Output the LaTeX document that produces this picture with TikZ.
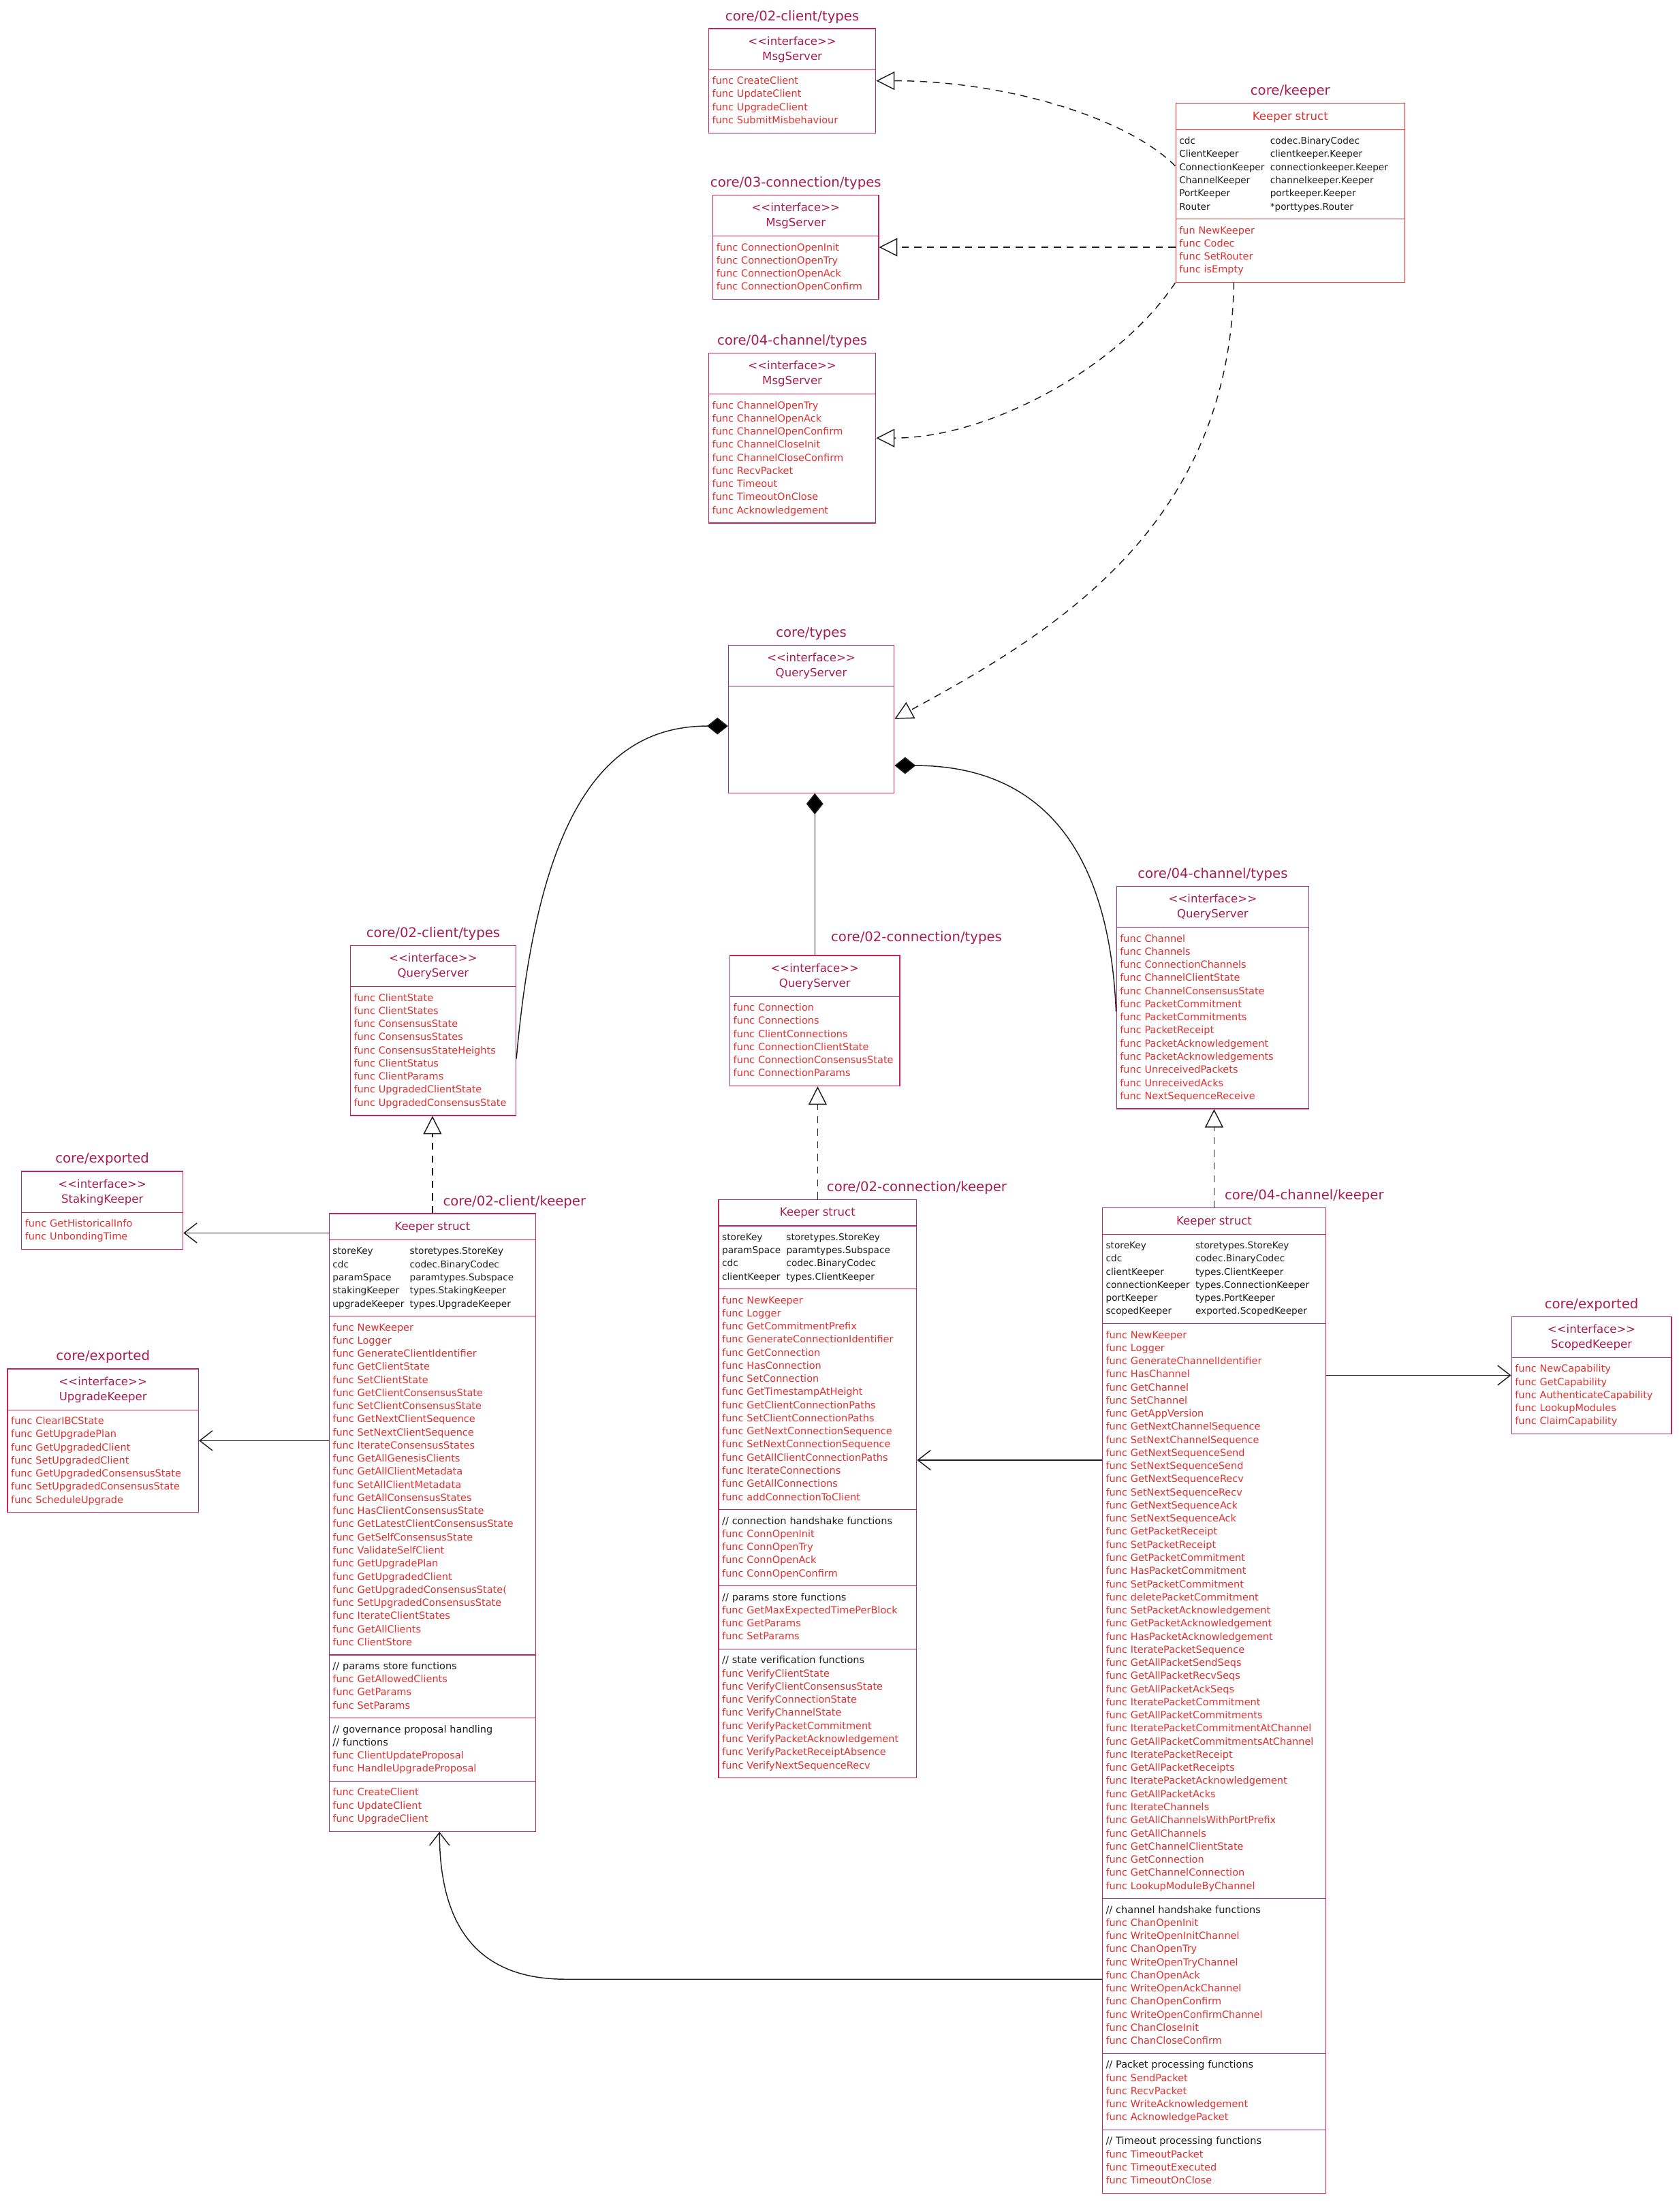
\documentclass[tikz,border=0pt]{standalone}
\usepackage{fontspec}
\setmainfont{DejaVu Sans}
\usepackage{tikz}
\usepackage{xcolor}
\usetikzlibrary{shapes.multipart,arrows.meta}

\definecolor{pkgc}{HTML}{A61E4D}
\definecolor{boxc}{HTML}{C2255C}
\definecolor{funcc}{HTML}{E03131}
\definecolor{linec}{HTML}{1E1E1E}

\newcommand{\hdr}[2][pkgc]{{\centering\color{#1}\fontsize{8}{10.5}\selectfont\rule{0pt}{8pt}#2\rule[-3pt]{0pt}{3pt}\par}}
\newcommand{\ifc}[1]{\hdr{<\kern0pt<interface>\kern0pt>\\#1}}
\newcommand{\fn}[1]{\mbox{\strut\color{funcc}func #1}\par}
\newcommand{\cmt}[1]{\mbox{\strut #1}\par}
\newcommand{\flds}[1]{{\fontsize{6.6}{9.3}\selectfont\begin{tabular}[t]{@{}l@{\hspace{4pt}}l@{}}#1\end{tabular}}\par}

\tikzset{
  pkg/.style={text=pkgc,font=\fontsize{9.5}{11}\selectfont},
  classbox/.style={rectangle split,rectangle split parts=#1,draw=boxc,line width=0.6pt,fill=white,
    anchor=north west,align=left,inner xsep=2.5pt,inner ysep=3.5pt,text=linec,font=\fontsize{7}{9.3}\selectfont},
  conn/.style={draw=linec,line width=0.7pt},
  realize/.style={conn,dash pattern=on 5pt off 4pt,-{Triangle[open,length=13pt,width=13pt]}},
  compose/.style={conn,-{Diamond[length=15pt,width=12pt]}},
  uses/.style={conn,-{Straight Barb[length=9pt,width=14pt]}}
}

\begin{document}
\begin{tikzpicture}[x=1pt,y=-1pt]
\useasboundingbox (0,0) rectangle (1190,1568);

\node[classbox=2,text width=113.4pt,label={[pkg]north:core/02-client/types}] at (502,20) (msgclient){%
\ifc{MsgServer}
\nodepart{two}
\fn{CreateClient}
\fn{UpdateClient}
\fn{UpgradeClient}
\fn{SubmitMisbehaviour}};

\node[classbox=2,text width=112.4pt,label={[pkg]north:core/03-connection/types}] at (505,138) (msgconn){%
\ifc{MsgServer}
\nodepart{two}
\fn{ConnectionOpenInit}
\fn{ConnectionOpenTry}
\fn{ConnectionOpenAck}
\fn{ConnectionOpenConfirm}};

\node[classbox=2,text width=113.4pt,label={[pkg]north:core/04-channel/types}] at (502,250) (msgchan){%
\ifc{MsgServer}
\nodepart{two}
\fn{ChannelOpenTry}
\fn{ChannelOpenAck}
\fn{ChannelOpenConfirm}
\fn{ChannelCloseInit}
\fn{ChannelCloseConfirm}
\fn{RecvPacket}
\fn{Timeout}
\fn{TimeoutOnClose}
\fn{Acknowledgement}};

\node[classbox=3,draw=funcc,text width=157.4pt,label={[pkg]north:core/keeper}] at (833,73) (corekeeper){%
\hdr[funcc]{Keeper struct}
\nodepart{two}
\flds{cdc & codec.BinaryCodec\\
ClientKeeper & clientkeeper.Keeper\\
ConnectionKeeper & connectionkeeper.Keeper\\
ChannelKeeper & channelkeeper.Keeper\\
PortKeeper & portkeeper.Keeper\\
Router & *porttypes.Router}
\nodepart{three}
\mbox{\strut\color{funcc}fun NewKeeper}\par
\fn{Codec}
\fn{SetRouter}
\fn{isEmpty}};

\node[classbox=2,text width=112.4pt,label={[pkg]north:core/types}] at (516,457) (qscore){%
\ifc{QueryServer}
\nodepart{two}
\rule{0pt}{68pt}};

\node[classbox=2,text width=112.4pt,label={[pkg]north:core/02-client/types}] at (248,670) (qsclient){%
\ifc{QueryServer}
\nodepart{two}
\fn{ClientState}
\fn{ClientStates}
\fn{ConsensusState}
\fn{ConsensusStates}
\fn{ConsensusStateHeights}
\fn{ClientStatus}
\fn{ClientParams}
\fn{UpgradedClientState}
\fn{UpgradedConsensusState}};

\node[classbox=2,text width=115.4pt,label={[pkg,anchor=south west,xshift=8pt,yshift=4pt]north:core/02-connection/types}] at (517,677) (qsconn){%
\ifc{QueryServer}
\nodepart{two}
\fn{Connection}
\fn{Connections}
\fn{ClientConnections}
\fn{ConnectionClientState}
\fn{ConnectionConsensusState}
\fn{ConnectionParams}};

\node[classbox=2,text width=131.4pt,label={[pkg]north:core/04-channel/types}] at (791,628) (qschan){%
\ifc{QueryServer}
\nodepart{two}
\fn{Channel}
\fn{Channels}
\fn{ConnectionChannels}
\fn{ChannelClientState}
\fn{ChannelConsensusState}
\fn{PacketCommitment}
\fn{PacketCommitments}
\fn{PacketReceipt}
\fn{PacketAcknowledgement}
\fn{PacketAcknowledgements}
\fn{UnreceivedPackets}
\fn{UnreceivedAcks}
\fn{NextSequenceReceive}};

\node[classbox=2,text width=109.4pt,label={[pkg]north:core/exported}] at (15,830) (staking){%
\ifc{StakingKeeper}
\nodepart{two}
\fn{GetHistoricalInfo}
\fn{UnbondingTime}};

\node[classbox=2,text width=130.4pt,label={[pkg]north:core/exported}] at (5,970) (upgrade){%
\ifc{UpgradeKeeper}
\nodepart{two}
\fn{ClearIBCState}
\fn{GetUpgradePlan}
\fn{GetUpgradedClient}
\fn{SetUpgradedClient}
\fn{GetUpgradedConsensusState}
\fn{SetUpgradedConsensusState}
\fn{ScheduleUpgrade}};

\node[classbox=2,text width=108.4pt,label={[pkg]north:core/exported}] at (1071,933) (scoped){%
\ifc{ScopedKeeper}
\nodepart{two}
\fn{NewCapability}
\fn{GetCapability}
\fn{AuthenticateCapability}
\fn{LookupModules}
\fn{ClaimCapability}};

\node[classbox=6,text width=141.4pt,label={[pkg,anchor=south west,xshift=4pt]north:core/02-client/keeper}] at (233,860) (clientkeeper){%
\hdr{Keeper struct}
\nodepart{two}
\flds{storeKey & storetypes.StoreKey\\
cdc & codec.BinaryCodec\\
paramSpace & paramtypes.Subspace\\
stakingKeeper & types.StakingKeeper\\
upgradeKeeper & types.UpgradeKeeper}
\nodepart{three}
\fn{NewKeeper}
\fn{Logger}
\fn{GenerateClientIdentifier}
\fn{GetClientState}
\fn{SetClientState}
\fn{GetClientConsensusState}
\fn{SetClientConsensusState}
\fn{GetNextClientSequence}
\fn{SetNextClientSequence}
\fn{IterateConsensusStates}
\fn{GetAllGenesisClients}
\fn{GetAllClientMetadata}
\fn{SetAllClientMetadata}
\fn{GetAllConsensusStates}
\fn{HasClientConsensusState}
\fn{GetLatestClientConsensusState}
\fn{GetSelfConsensusState}
\fn{ValidateSelfClient}
\fn{GetUpgradePlan}
\fn{GetUpgradedClient}
\fn{GetUpgradedConsensusState(}
\fn{SetUpgradedConsensusState}
\fn{IterateClientStates}
\fn{GetAllClients}
\fn{ClientStore}
\nodepart{four}
\cmt{// params store functions}
\fn{GetAllowedClients}
\fn{GetParams}
\fn{SetParams}
\nodepart{five}
\cmt{// governance proposal handling}
\cmt{// functions}
\fn{ClientUpdateProposal}
\fn{HandleUpgradeProposal}
\nodepart{six}
\fn{CreateClient}
\fn{UpdateClient}
\fn{UpgradeClient}};

\node[classbox=6,text width=135.4pt,label={[pkg,anchor=south west,xshift=3pt]north:core/02-connection/keeper}] at (509,850) (connkeeper){%
\hdr{Keeper struct}
\nodepart{two}
\flds{storeKey & storetypes.StoreKey\\
paramSpace & paramtypes.Subspace\\
cdc & codec.BinaryCodec\\
clientKeeper & types.ClientKeeper}
\nodepart{three}
\fn{NewKeeper}
\fn{Logger}
\fn{GetCommitmentPrefix}
\fn{GenerateConnectionIdentifier}
\fn{GetConnection}
\fn{HasConnection}
\fn{SetConnection}
\fn{GetTimestampAtHeight}
\fn{GetClientConnectionPaths}
\fn{SetClientConnectionPaths}
\fn{GetNextConnectionSequence}
\fn{SetNextConnectionSequence}
\fn{GetAllClientConnectionPaths}
\fn{IterateConnections}
\fn{GetAllConnections}
\fn{addConnectionToClient}
\nodepart{four}
\cmt{// connection handshake functions}
\fn{ConnOpenInit}
\fn{ConnOpenTry}
\fn{ConnOpenAck}
\fn{ConnOpenConfirm}
\nodepart{five}
\cmt{// params store functions}
\fn{GetMaxExpectedTimePerBlock}
\fn{GetParams}
\fn{SetParams}
\nodepart{six}
\cmt{// state verification functions}
\fn{VerifyClientState}
\fn{VerifyClientConsensusState}
\fn{VerifyConnectionState}
\fn{VerifyChannelState}
\fn{VerifyPacketCommitment}
\fn{VerifyPacketAcknowledgement}
\fn{VerifyPacketReceiptAbsence}
\fn{VerifyNextSequenceRecv}};

\node[classbox=6,text width=153.4pt,label={[pkg,anchor=south west,xshift=4pt]north:core/04-channel/keeper}] at (781,856) (chankeeper){%
\hdr{Keeper struct}
\nodepart{two}
\flds{storeKey & storetypes.StoreKey\\
cdc & codec.BinaryCodec\\
clientKeeper & types.ClientKeeper\\
connectionKeeper & types.ConnectionKeeper\\
portKeeper & types.PortKeeper\\
scopedKeeper & exported.ScopedKeeper}
\nodepart{three}
\fn{NewKeeper}
\fn{Logger}
\fn{GenerateChannelIdentifier}
\fn{HasChannel}
\fn{GetChannel}
\fn{SetChannel}
\fn{GetAppVersion}
\fn{GetNextChannelSequence}
\fn{SetNextChannelSequence}
\fn{GetNextSequenceSend}
\fn{SetNextSequenceSend}
\fn{GetNextSequenceRecv}
\fn{SetNextSequenceRecv}
\fn{GetNextSequenceAck}
\fn{SetNextSequenceAck}
\fn{GetPacketReceipt}
\fn{SetPacketReceipt}
\fn{GetPacketCommitment}
\fn{HasPacketCommitment}
\fn{SetPacketCommitment}
\fn{deletePacketCommitment}
\fn{SetPacketAcknowledgement}
\fn{GetPacketAcknowledgement}
\fn{HasPacketAcknowledgement}
\fn{IteratePacketSequence}
\fn{GetAllPacketSendSeqs}
\fn{GetAllPacketRecvSeqs}
\fn{GetAllPacketAckSeqs}
\fn{IteratePacketCommitment}
\fn{GetAllPacketCommitments}
\fn{IteratePacketCommitmentAtChannel}
\fn{GetAllPacketCommitmentsAtChannel}
\fn{IteratePacketReceipt}
\fn{GetAllPacketReceipts}
\fn{IteratePacketAcknowledgement}
\fn{GetAllPacketAcks}
\fn{IterateChannels}
\fn{GetAllChannelsWithPortPrefix}
\fn{GetAllChannels}
\fn{GetChannelClientState}
\fn{GetConnection}
\fn{GetChannelConnection}
\fn{LookupModuleByChannel}
\nodepart{four}
\cmt{// channel handshake functions}
\fn{ChanOpenInit}
\fn{WriteOpenInitChannel}
\fn{ChanOpenTry}
\fn{WriteOpenTryChannel}
\fn{ChanOpenAck}
\fn{WriteOpenAckChannel}
\fn{ChanOpenConfirm}
\fn{WriteOpenConfirmChannel}
\fn{ChanCloseInit}
\fn{ChanCloseConfirm}
\nodepart{five}
\cmt{// Packet processing functions}
\fn{SendPacket}
\fn{RecvPacket}
\fn{WriteAcknowledgement}
\fn{AcknowledgePacket}
\nodepart{six}
\cmt{// Timeout processing functions}
\fn{TimeoutPacket}
\fn{TimeoutExecuted}
\fn{TimeoutOnClose}};

\draw[realize] ([yshift=19pt]corekeeper.west) .. controls +(-35,-35) and +(90,0) .. (msgclient.east);
\draw[realize] (corekeeper.west |- msgconn.east) -- (msgconn.east);
\draw[realize] (corekeeper.south west) .. controls +(-40,60) and +(80,0) .. (msgchan.east);
\draw[realize] ([xshift=-40pt]corekeeper.south) .. controls +(-3,175) and +(110,-60) .. (qscore.east);

\draw[compose] ([yshift=-20pt]qsclient.east) .. controls +(15,-170) and +(-90,0) .. ([yshift=-5pt]qscore.west);
\draw[compose] (qsconn.north) -- (qsconn.north |- qscore.south);
\draw[compose] ([yshift=-10pt]qschan.west) .. controls +(-5,-120) and +(100,0) .. ([yshift=-33pt]qscore.east);

\foreach \k/\q in {clientkeeper/qsclient,connkeeper/qsconn,chankeeper/qschan}{
\draw[realize] (\k.north) -- (\k.north |- \q.south);
}

\coordinate (ckstake) at ([yshift=-14pt]clientkeeper.north west);
\draw[uses] (ckstake) -- (staking.east |- ckstake);
\draw[uses] (clientkeeper.west |- upgrade.east) -- (upgrade.east);
\draw[uses] (chankeeper.east |- scoped.west) -- (scoped.west);
\coordinate (chconn) at ([yshift=-179pt]chankeeper.north west);
\draw[uses] (chconn) -- (connkeeper.east |- chconn);
\coordinate (chclient) at ([yshift=-547pt]chankeeper.north west);
\draw[uses] (chclient) -- ++(-380,0) .. controls +(-60,0) and +(0,70) .. ([xshift=5pt]clientkeeper.south);
\end{tikzpicture}
\end{document}
